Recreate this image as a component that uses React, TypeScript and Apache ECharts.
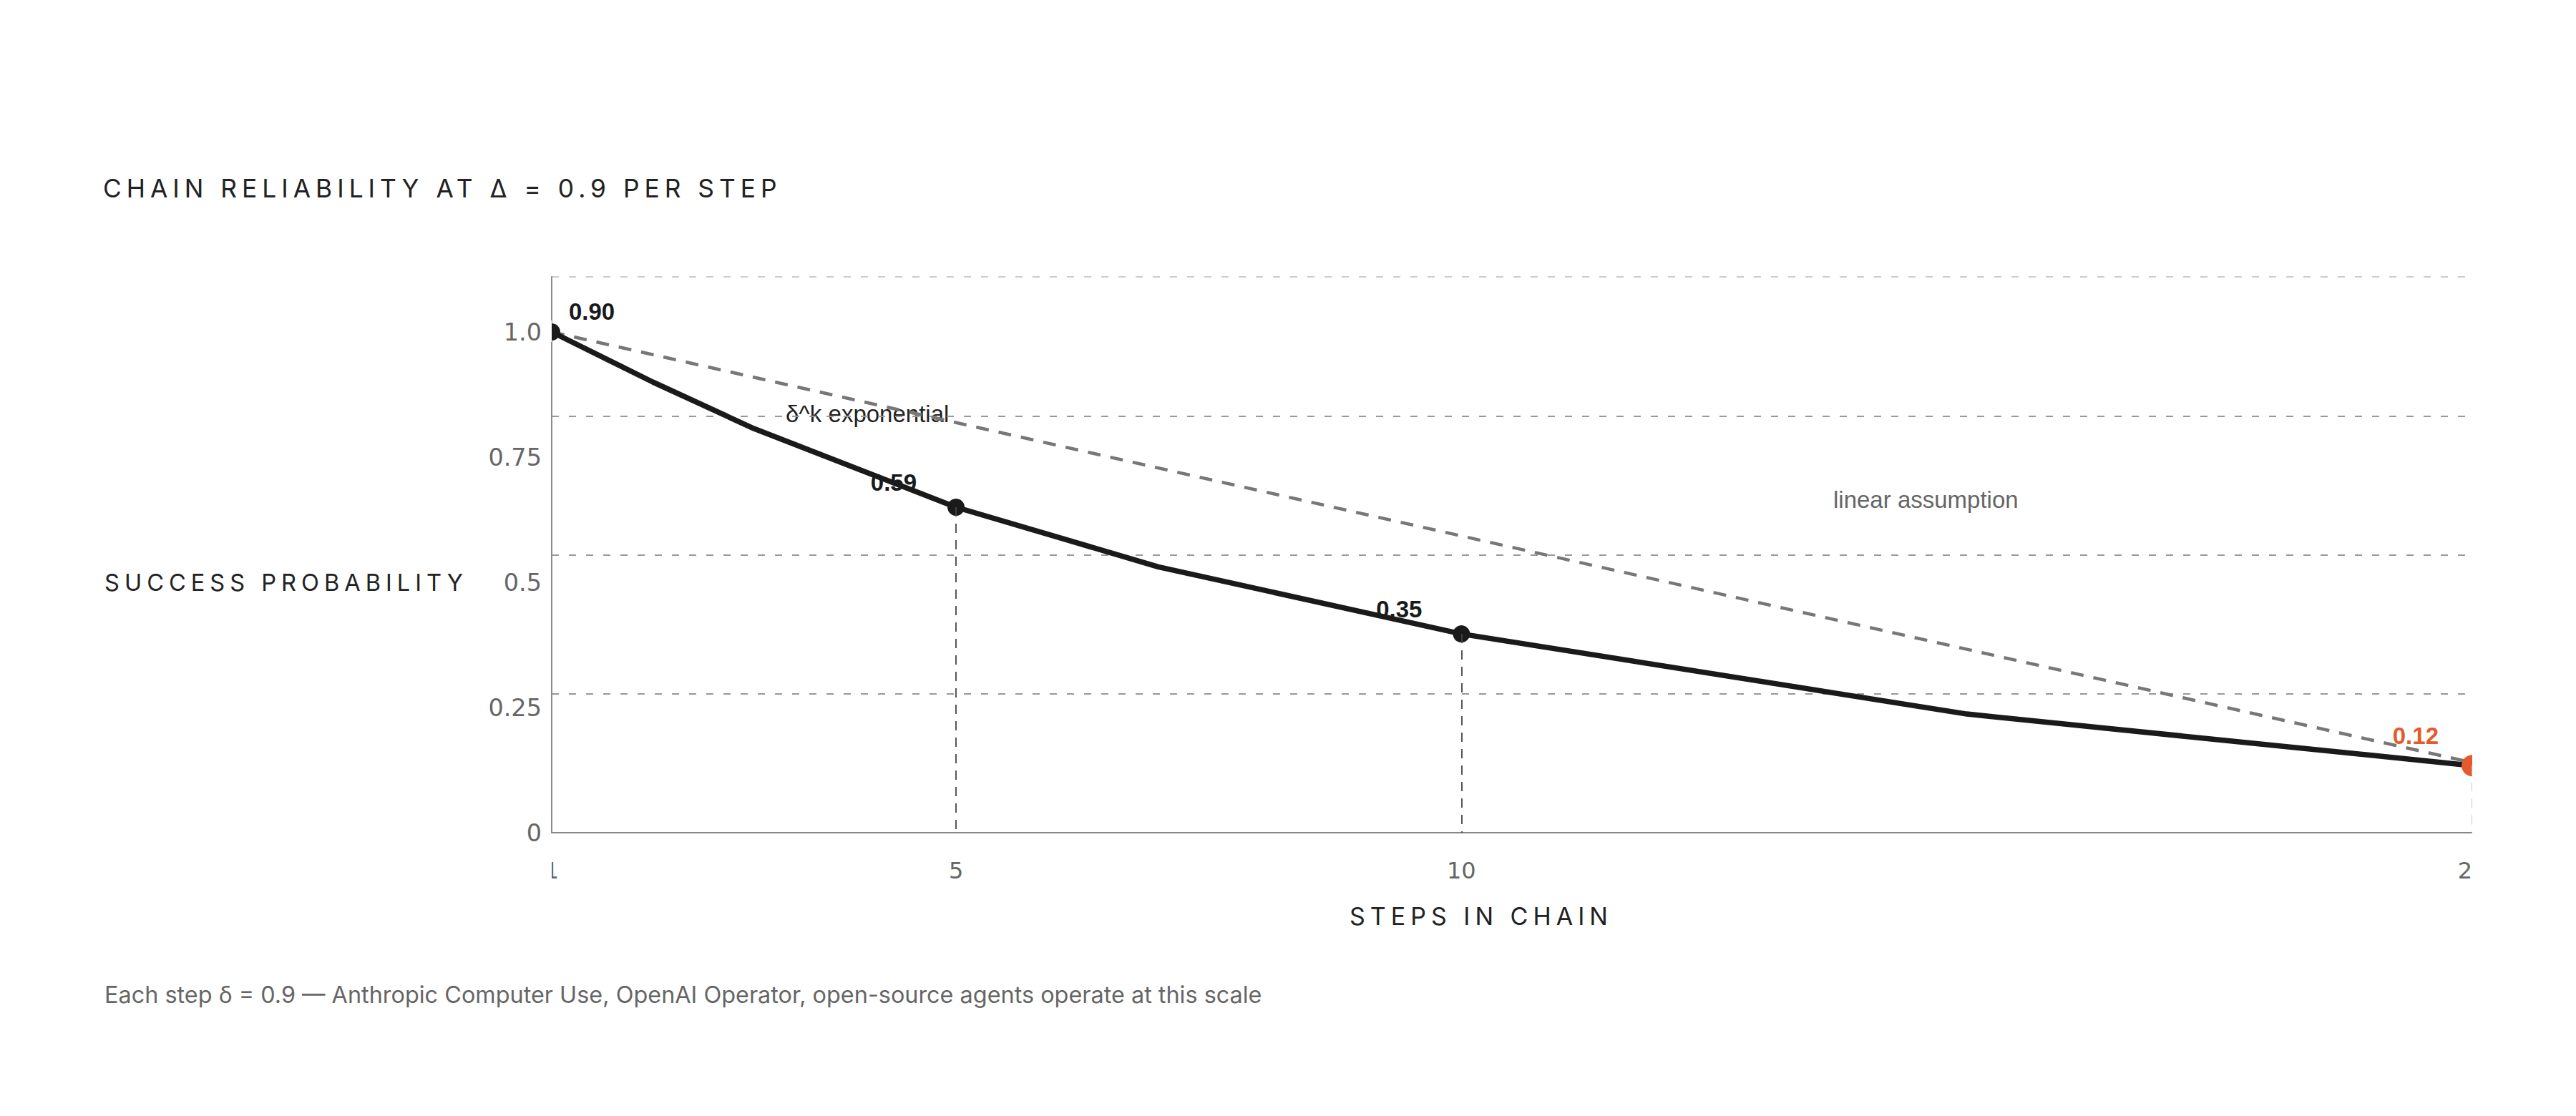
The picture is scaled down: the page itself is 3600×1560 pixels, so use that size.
import React, { useEffect, useRef } from 'react';
import * as echarts from 'echarts';

// chain length vs. probability that every step succeeds
const steps = [1, 2, 3, 5, 7, 10, 15, 20];
const successProb = [1.0, 0.9, 0.807, 0.65, 0.531, 0.397, 0.237, 0.134];

// naive straight-line expectation
const linearSteps = [1, 20];
const linearProb = [1.0, 0.14];

// highlighted points and the values printed next to them
const calloutSteps = [1, 5, 10, 20];
const calloutLabels = ['0.90', '0.59', '0.35', '0.12'];

const xTicks = [1, 5, 10, 20];
const yTicks = [0, 0.25, 0.5, 0.75, 1.0];

const INK = '#1a1a1a';
const ACCENT = '#e55a2b';
const MUTED = '#666';

const lastStep = steps[steps.length - 1];

const App: React.FC = () => {
    const chartRef = useRef<HTMLDivElement>(null);
    const labelRef = useRef<HTMLDivElement>(null);

    useEffect(() => {
        const chart = echarts.init(chartRef.current!, null, { renderer: 'svg' });
        const labels = echarts.init(labelRef.current!, null, { renderer: 'svg' });

        const expData = steps.map((s, i) => {
            const ci = calloutSteps.indexOf(s);
            if (ci < 0) return { value: [s, successProb[i]], symbol: 'none' };
            const isFirst = ci === 0;
            const isLast = ci === calloutSteps.length - 1;
            return {
                value: [s, successProb[i]],
                symbol: 'circle',
                symbolSize: isLast ? 30 : 24,
                itemStyle: { color: isLast ? ACCENT : INK },
                label: {
                    show: true,
                    formatter: calloutLabels[ci],
                    position: isFirst ? 'right' : 'left',
                    offset: isFirst ? [7, -29] : isLast ? [-27, -42] : [-38, -35],
                    fontFamily: 'Liberation Sans',
                    fontWeight: 'bold',
                    fontSize: 33,
                    color: isLast ? ACCENT : INK,
                },
            };
        });

        // dashed drops from the highlighted points to the x axis
        const dropLines = calloutSteps.slice(1).map((s) => {
            const v = successProb[steps.indexOf(s)];
            return [
                { coord: [s, v], lineStyle: { color: s === lastStep ? '#c4c4c4' : '#444' } },
                { coord: [s, 0] },
            ];
        });

        const option: any = {
            animation: false,
            backgroundColor: '#fff',
            grid: { left: 771, top: 387, width: 2684, height: 777 },
            xAxis: {
                type: 'value',
                min: 1,
                max: 20,
                axisLine: { show: true, lineStyle: { color: '#888', width: 2 } },
                axisTick: { show: false },
                splitLine: { show: false },
                axisLabel: {
                    customValues: xTicks,
                    color: MUTED,
                    fontFamily: 'DejaVu Sans',
                    fontSize: 32,
                    margin: 37,
                },
            },
            yAxis: {
                type: 'value',
                min: 0,
                max: 1.11,
                interval: 0.2775,
                axisLine: { show: true, lineStyle: { color: '#888', width: 2 } },
                axisTick: { show: false },
                axisLabel: {
                    customValues: yTicks,
                    formatter: (v: number) => (v === 1 ? '1.0' : String(v)),
                    color: MUTED,
                    fontFamily: 'DejaVu Sans',
                    fontSize: 33.5,
                    margin: 14,
                },
                splitLine: {
                    show: true,
                    lineStyle: {
                        color: ['#999', '#999', '#999', '#999', '#ccc'],
                        type: [10, 14],
                        width: 2,
                    },
                },
            },
            graphic: [
                {
                    type: 'text',
                    x: 1098,
                    y: 578,
                    style: {
                        text: 'δ^k exponential',
                        font: '33px "Liberation Sans"',
                        fill: '#222',
                        verticalAlign: 'middle',
                    },
                },
                {
                    type: 'text',
                    x: 2562,
                    y: 698,
                    style: {
                        text: 'linear assumption',
                        font: '33px "Liberation Sans"',
                        fill: MUTED,
                        verticalAlign: 'middle',
                    },
                },
                {
                    type: 'text',
                    x: 146,
                    y: 1390,
                    style: {
                        text: 'Each step δ = 0.9 — Anthropic Computer Use, OpenAI Operator, open-source agents operate at this scale',
                        font: '32.4px Inter',
                        fill: MUTED,
                        verticalAlign: 'middle',
                    },
                },
            ],
            series: [
                {
                    type: 'line',
                    data: linearSteps.map((s, i) => [s, linearProb[i]]),
                    symbol: 'none',
                    silent: true,
                    clip: false,
                    lineStyle: { color: '#777', width: 4.5, type: [18, 14] },
                    z: 2,
                },
                {
                    type: 'line',
                    data: expData,
                    clip: false,
                    silent: true,
                    lineStyle: { color: INK, width: 7.5 },
                    z: 3,
                    markLine: {
                        silent: true,
                        symbol: 'none',
                        label: { show: false },
                        lineStyle: { type: [13, 10], width: 1.8 },
                        data: dropLines,
                    },
                },
            ],
        };

        // letter-spaced headings live in their own layer (css letter-spacing)
        const labelOption: any = {
            animation: false,
            graphic: [
                {
                    type: 'text',
                    x: 144,
                    y: 263,
                    style: {
                        text: 'CHAIN RELIABILITY AT Δ = 0.9 PER STEP',
                        font: '35.3px Inter',
                        fill: '#222',
                        verticalAlign: 'middle',
                    },
                },
                {
                    type: 'text',
                    x: 146,
                    y: 814,
                    style: {
                        text: 'SUCCESS PROBABILITY',
                        font: '32.6px Inter',
                        fill: '#222',
                        verticalAlign: 'middle',
                    },
                },
                {
                    type: 'text',
                    x: 1886,
                    y: 1280,
                    style: {
                        text: 'STEPS IN CHAIN',
                        font: '34px Inter',
                        fill: '#222',
                        verticalAlign: 'middle',
                    },
                },
            ],
        };

        chart.setOption(option);
        labels.setOption(labelOption);

        return () => {
            chart.dispose();
            labels.dispose();
        };
    }, []);

    // the plot clips the edge tick labels and the end dots, as in the original
    const clip =
        'polygon(0px 0px, 3455px 0px, 3455px 1560px, 0px 1560px, 0px 1236px, 771px 1236px, 771px 1190px, 0px 1190px, ' +
        '0px 463px, 758px 463px, 758px 478px, 771px 478px, 771px 448px, 758px 448px, 758px 463px, 0px 463px)';

    return (
        <div style={{ position: 'fixed', left: 0, top: 0, width: '100vw', height: '100vh', background: '#fff' }}>
            <div ref={chartRef} style={{ position: 'absolute', left: 0, top: 0, width: '100%', height: '100%', clipPath: clip }} />
            <div
                ref={labelRef}
                style={{ position: 'absolute', left: 0, top: 0, width: '100%', height: '100%', letterSpacing: '7px', pointerEvents: 'none' }}
            />
        </div>
    );
};

export default App;
